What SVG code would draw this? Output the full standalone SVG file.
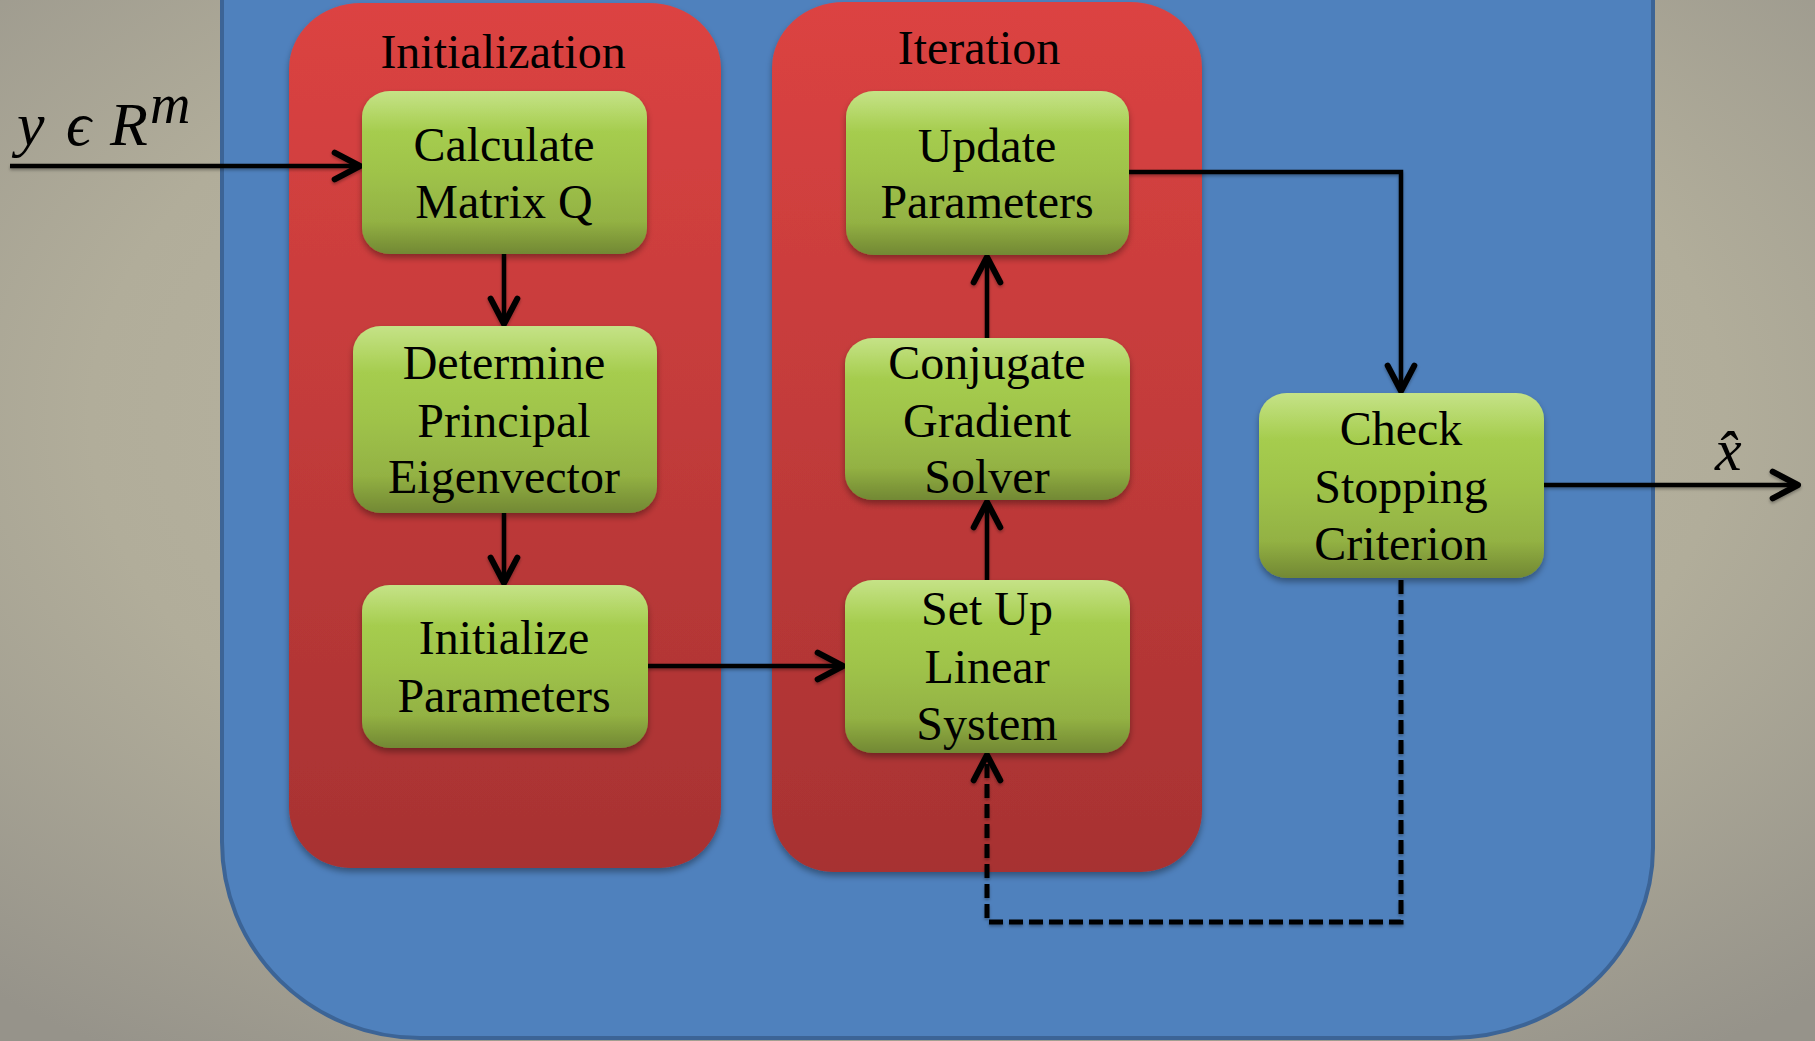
<svg xmlns="http://www.w3.org/2000/svg" width="1815" height="1041" viewBox="0 0 1815 1041">
<defs>
  <radialGradient id="bg" cx="50%" cy="40%" r="75%">
    <stop offset="0" stop-color="#bdb9a6"/>
    <stop offset="0.6" stop-color="#b1ad9a"/>
    <stop offset="1" stop-color="#96938a"/>
  </radialGradient>
  <linearGradient id="red" x1="0" y1="0" x2="0" y2="1">
    <stop offset="0" stop-color="#dc4342"/>
    <stop offset="1" stop-color="#a73232"/>
  </linearGradient>
  <linearGradient id="green" x1="0" y1="0" x2="0" y2="1">
    <stop offset="0" stop-color="#acd653"/>
    <stop offset="0.5" stop-color="#9fc34a"/>
    <stop offset="1" stop-color="#8ba63f"/>
  </linearGradient>
  <linearGradient id="bevel" x1="0" y1="0" x2="0" y2="1">
    <stop offset="0" stop-color="#ffffff" stop-opacity="0.3"/>
    <stop offset="0.25" stop-color="#ffffff" stop-opacity="0"/>
    <stop offset="0.8" stop-color="#000000" stop-opacity="0"/>
    <stop offset="1" stop-color="#000000" stop-opacity="0.18"/>
  </linearGradient>
  <filter id="shadow" x="-10%" y="-10%" width="120%" height="125%">
    <feDropShadow dx="0" dy="4" stdDeviation="3" flood-color="#000" flood-opacity="0.35"/>
  </filter>
  <filter id="lshadow" filterUnits="userSpaceOnUse" x="0" y="0" width="1815" height="1041">
    <feDropShadow dx="0" dy="2" stdDeviation="1.5" flood-color="#000" flood-opacity="0.3"/>
  </filter>
  <marker id="arr" markerUnits="userSpaceOnUse" markerWidth="40" markerHeight="40" refX="0" refY="0" orient="auto" overflow="visible" viewBox="-25 -15 30 30">
    <path d="M-19,-10 L0,0 L-19,10" fill="none" stroke="#000" stroke-width="4.5" stroke-linecap="round" stroke-linejoin="round"/>
  </marker>
  <style>
    .node rect.b { fill: url(#green); filter: url(#shadow); }
    .node rect.h { fill: url(#bevel); }
    .lbl { font-family: "Liberation Serif", "Times New Roman", serif; font-size: 48px; fill: #000; text-anchor: middle; }
    .math { font-family: "Liberation Serif", "DejaVu Serif", serif; font-style: italic; fill: #000; }
    .cont { fill: url(#red); filter: url(#shadow); }
    .ln { fill: none; stroke: #000; stroke-width: 4.5; }
    .dash { stroke-width: 5; stroke-dasharray: 14 6; }
  </style>
</defs>

<rect x="0" y="0" width="1815" height="1041" fill="url(#bg)"/>

<g id="panel">
  <path d="M222,-10 L222,842 A198 196 0 0 0 420,1038 L1450,1038 A203 190 0 0 0 1653,848 L1653,-10 Z" fill="#4f81bd" stroke="#3c6496" stroke-width="4"/>
</g>

<g id="init-container">
  <path class="cont" d="M361,3 L649,3 A72 66 0 0 1 721,69 L721,807 A61 61 0 0 1 660,868 L350,868 A61 61 0 0 1 289,807 L289,69 A72 66 0 0 1 361,3 Z"/>
  <text class="lbl" x="503" y="68">Initialization</text>
</g>

<g id="iter-container">
  <path class="cont" d="M844,2 L1130,2 A72 66 0 0 1 1202,68 L1202,811 A61 61 0 0 1 1141,872 L833,872 A61 61 0 0 1 772,811 L772,68 A72 66 0 0 1 844,2 Z"/>
  <text class="lbl" x="979" y="64">Iteration</text>
</g>

<g id="connectors" filter="url(#lshadow)">
  <path class="ln" d="M10,166 L360,166" marker-end="url(#arr)"/>
  <path class="ln" d="M504,254 L504,324" marker-end="url(#arr)"/>
  <path class="ln" d="M504,513 L504,583" marker-end="url(#arr)"/>
  <path class="ln" d="M648,666 L843,666" marker-end="url(#arr)"/>
  <path class="ln" d="M987,580 L987,502" marker-end="url(#arr)"/>
  <path class="ln" d="M987,338 L987,257" marker-end="url(#arr)"/>
  <path class="ln" d="M1129,172 L1401,172 L1401,391" marker-end="url(#arr)"/>
  <path class="ln" d="M1544,485 L1798,485" marker-end="url(#arr)"/>
  <path class="ln dash" d="M1401,580 L1401,922 L987,922 L987,755" marker-end="url(#arr)"/>
</g>

<g id="calc-q" class="node">
  <rect class="b" x="362" y="91" width="285" height="163" rx="28" ry="26"/>
  <rect class="h" x="362" y="91" width="285" height="163" rx="28" ry="26"/>
  <text class="lbl" x="504" y="161">Calculate</text>
  <text class="lbl" x="504" y="218">Matrix Q</text>
</g>

<g id="eigen" class="node">
  <rect class="b" x="353" y="326" width="304" height="187" rx="28" ry="26"/>
  <rect class="h" x="353" y="326" width="304" height="187" rx="28" ry="26"/>
  <text class="lbl" x="504" y="379">Determine</text>
  <text class="lbl" x="504" y="437">Principal</text>
  <text class="lbl" x="504" y="493">Eigenvector</text>
</g>

<g id="init-params" class="node">
  <rect class="b" x="362" y="585" width="286" height="163" rx="28" ry="26"/>
  <rect class="h" x="362" y="585" width="286" height="163" rx="28" ry="26"/>
  <text class="lbl" x="504" y="654">Initialize</text>
  <text class="lbl" x="504" y="712">Parameters</text>
</g>

<g id="update-params" class="node">
  <rect class="b" x="846" y="91" width="283" height="164" rx="28" ry="26"/>
  <rect class="h" x="846" y="91" width="283" height="164" rx="28" ry="26"/>
  <text class="lbl" x="987" y="162">Update</text>
  <text class="lbl" x="987" y="218">Parameters</text>
</g>

<g id="cg-solver" class="node">
  <rect class="b" x="845" y="338" width="285" height="162" rx="28" ry="26"/>
  <rect class="h" x="845" y="338" width="285" height="162" rx="28" ry="26"/>
  <text class="lbl" x="987" y="379">Conjugate</text>
  <text class="lbl" x="987" y="437">Gradient</text>
  <text class="lbl" x="987" y="493">Solver</text>
</g>

<g id="setup-linear" class="node">
  <rect class="b" x="845" y="580" width="285" height="173" rx="28" ry="26"/>
  <rect class="h" x="845" y="580" width="285" height="173" rx="28" ry="26"/>
  <text class="lbl" x="987" y="625">Set Up</text>
  <text class="lbl" x="987" y="683">Linear</text>
  <text class="lbl" x="987" y="740">System</text>
</g>

<g id="check-stop" class="node">
  <rect class="b" x="1259" y="393" width="285" height="185" rx="28" ry="26"/>
  <rect class="h" x="1259" y="393" width="285" height="185" rx="28" ry="26"/>
  <text class="lbl" x="1401" y="445">Check</text>
  <text class="lbl" x="1401" y="503">Stopping</text>
  <text class="lbl" x="1401" y="560">Criterion</text>
</g>

<g id="input-label">
  <text class="math" x="17" y="145" font-size="62">y<tspan x="66">ϵ</tspan><tspan x="110">R</tspan><tspan x="150" dy="-22" font-size="56">m</tspan></text>
</g>

<g id="output-label">
  <text class="math" x="1715" y="470" font-size="60">x̂</text>
</g>
</svg>
